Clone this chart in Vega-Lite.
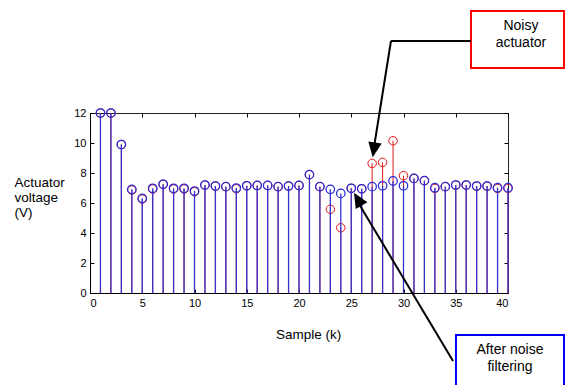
{
  "$schema": "https://vega.github.io/schema/vega-lite/v6.json",
  "width": 418,
  "height": 180,
  "autosize": {"type": "none"},
  "padding": {"left": 90, "top": 113, "right": 57, "bottom": 92},
  "background": "white",
  "config": {
    "view": {"stroke": "#222", "strokeWidth": 1},
    "font": "Liberation Sans",
    "axis": {
      "grid": false,
      "domainColor": "#000",
      "tickColor": "#000",
      "labelColor": "#000",
      "titleColor": "#000",
      "labelFont": "Liberation Sans",
      "titleFont": "Liberation Sans",
      "labelFontSize": 11,
      "titleFontSize": 13.5,
      "titleFontWeight": "normal",
      "tickSize": -4,
      "labelPadding": 8
    }
  },
  "datasets": {
    "samples": [
      {"k":1,"series":"noisy","v":12},{"k":2,"series":"noisy","v":12},{"k":3,"series":"noisy","v":9.9},{"k":4,"series":"noisy","v":6.86},{"k":5,"series":"noisy","v":6.26},{"k":6,"series":"noisy","v":6.93},{"k":7,"series":"noisy","v":7.25},{"k":8,"series":"noisy","v":6.93},{"k":9,"series":"noisy","v":6.93},{"k":10,"series":"noisy","v":6.75},
      {"k":11,"series":"noisy","v":7.2},{"k":12,"series":"noisy","v":7.13},{"k":13,"series":"noisy","v":7.09},{"k":14,"series":"noisy","v":6.95},{"k":15,"series":"noisy","v":7.15},{"k":16,"series":"noisy","v":7.17},{"k":17,"series":"noisy","v":7.17},{"k":18,"series":"noisy","v":7.09},{"k":19,"series":"noisy","v":7.13},{"k":20,"series":"noisy","v":7.17},
      {"k":21,"series":"noisy","v":7.89},{"k":22,"series":"noisy","v":7.09},{"k":23,"series":"noisy","v":5.58},{"k":24,"series":"noisy","v":4.35},{"k":25,"series":"noisy","v":6.98},{"k":26,"series":"noisy","v":6.95},{"k":27,"series":"noisy","v":8.64},{"k":28,"series":"noisy","v":8.71},{"k":29,"series":"noisy","v":10.15},{"k":30,"series":"noisy","v":7.82},
      {"k":31,"series":"noisy","v":7.64},{"k":32,"series":"noisy","v":7.49},{"k":33,"series":"noisy","v":6.97},{"k":34,"series":"noisy","v":7.09},{"k":35,"series":"noisy","v":7.2},{"k":36,"series":"noisy","v":7.2},{"k":37,"series":"noisy","v":7.13},{"k":38,"series":"noisy","v":7.13},{"k":39,"series":"noisy","v":6.97},{"k":40,"series":"noisy","v":6.97},
      {"k":1,"series":"filtered","v":12},{"k":2,"series":"filtered","v":12},{"k":3,"series":"filtered","v":9.9},{"k":4,"series":"filtered","v":6.91},{"k":5,"series":"filtered","v":6.31},{"k":6,"series":"filtered","v":6.98},{"k":7,"series":"filtered","v":7.25},{"k":8,"series":"filtered","v":6.98},{"k":9,"series":"filtered","v":6.98},{"k":10,"series":"filtered","v":6.8},
      {"k":11,"series":"filtered","v":7.2},{"k":12,"series":"filtered","v":7.13},{"k":13,"series":"filtered","v":7.09},{"k":14,"series":"filtered","v":7.0},{"k":15,"series":"filtered","v":7.15},{"k":16,"series":"filtered","v":7.17},{"k":17,"series":"filtered","v":7.17},{"k":18,"series":"filtered","v":7.09},{"k":19,"series":"filtered","v":7.13},{"k":20,"series":"filtered","v":7.17},
      {"k":21,"series":"filtered","v":7.89},{"k":22,"series":"filtered","v":7.09},{"k":23,"series":"filtered","v":6.91},{"k":24,"series":"filtered","v":6.64},{"k":25,"series":"filtered","v":6.98},{"k":26,"series":"filtered","v":6.95},{"k":27,"series":"filtered","v":7.09},{"k":28,"series":"filtered","v":7.15},{"k":29,"series":"filtered","v":7.47},{"k":30,"series":"filtered","v":7.15},
      {"k":31,"series":"filtered","v":7.64},{"k":32,"series":"filtered","v":7.49},{"k":33,"series":"filtered","v":7.02},{"k":34,"series":"filtered","v":7.09},{"k":35,"series":"filtered","v":7.2},{"k":36,"series":"filtered","v":7.2},{"k":37,"series":"filtered","v":7.13},{"k":38,"series":"filtered","v":7.13},{"k":39,"series":"filtered","v":7.02},{"k":40,"series":"filtered","v":7.02}
    ],
    "boxes": [
      {"id":"noisy","x":36.46,"x2":45.36,"y":18.8,"y2":15.0},
      {"id":"filtered","x":35.02,"x2":45.36,"y":-2.8,"y2":-6.6}
    ],
    "segments": [
      {"x":36.46,"y":16.8,"x2":28.8,"y2":16.8},
      {"x":28.8,"y":16.8,"x2":27.15,"y2":9.6},
      {"x":34.74,"y":-4.53,"x2":25.6,"y2":6.1}
    ],
    "tips": [
      {"id":"noisy","x":27.05,"y":9.05},
      {"id":"filtered","x":25.26,"y":6.69}
    ],
    "notes": [
      {"text":"Noisy","x":41.24,"y":17.82},
      {"text":"actuator","x":41.24,"y":16.65},
      {"text":"After noise","x":40.19,"y":-3.8},
      {"text":"filtering","x":40.19,"y":-4.93}
    ]
  },
  "layer": [
    {
      "data": {"name": "samples"},
      "transform": [{"filter": "datum.series === 'noisy'"}],
      "mark": {"type": "rule", "color": "#e01818", "strokeWidth": 1},
      "encoding": {
        "x": {"field": "k", "type": "quantitative", "scale": {"domain": [0, 40], "nice": false},
          "axis": {"orient": "bottom", "values": [0,5,10,15,20,25,30,35,40], "title": "Sample (k)", "titleX": 218, "titleY": 41, "titleBaseline": "middle"}},
        "y": {"field": "v", "type": "quantitative", "scale": {"domain": [0, 12], "nice": false},
          "axis": {"orient": "left", "values": [0,2,4,6,8,10,12], "title": ["Actuator", "voltage", "(V)"], "titleAngle": 0, "titleAlign": "left", "titleBaseline": "top", "titleX": -76, "titleY": 62, "titleLineHeight": 15}},
        "y2": {"datum": 0}
      }
    },
    {
      "data": {"name": "samples"},
      "transform": [{"filter": "datum.series === 'noisy'"}],
      "mark": {"type": "point", "shape": "circle", "filled": false, "color": "#e01818", "size": 72, "strokeWidth": 1, "opacity": 1},
      "encoding": {
        "x": {"field": "k", "type": "quantitative", "axis": {"orient": "top", "values": [0,5,10,15,20,25,30,35,40], "labels": false, "title": null, "domain": false}},
        "y": {"field": "v", "type": "quantitative", "axis": {"orient": "right", "values": [0,2,4,6,8,10,12], "labels": false, "title": null, "domain": false}}
      }
    },
    {
      "data": {"name": "samples"},
      "transform": [{"filter": "datum.series === 'filtered'"}],
      "mark": {"type": "rule", "color": "#3434cc", "strokeWidth": 1.3},
      "encoding": {
        "x": {"field": "k", "type": "quantitative", "axis": null},
        "y": {"field": "v", "type": "quantitative", "axis": null},
        "y2": {"datum": 0}
      }
    },
    {
      "data": {"name": "samples"},
      "transform": [{"filter": "datum.series === 'filtered'"}],
      "mark": {"type": "point", "shape": "circle", "filled": false, "color": "#2828d8", "size": 72, "strokeWidth": 1.25, "opacity": 1},
      "encoding": {
        "x": {"field": "k", "type": "quantitative", "axis": null},
        "y": {"field": "v", "type": "quantitative", "axis": null}
      }
    },
    {
      "data": {"name": "boxes"},
      "transform": [{"filter": "datum.id === 'noisy'"}],
      "mark": {"type": "rect", "fill": "white", "stroke": "#ff0000", "strokeWidth": 2, "clip": false},
      "encoding": {
        "x": {"field": "x", "type": "quantitative", "axis": null},
        "x2": {"field": "x2"},
        "y": {"field": "y", "type": "quantitative", "axis": null},
        "y2": {"field": "y2"}
      }
    },
    {
      "data": {"name": "boxes"},
      "transform": [{"filter": "datum.id === 'filtered'"}],
      "mark": {"type": "rect", "fill": "white", "stroke": "#0000ff", "strokeWidth": 2, "clip": false},
      "encoding": {
        "x": {"field": "x", "type": "quantitative", "axis": null},
        "x2": {"field": "x2"},
        "y": {"field": "y", "type": "quantitative", "axis": null},
        "y2": {"field": "y2"}
      }
    },
    {
      "data": {"name": "segments"},
      "mark": {"type": "rule", "color": "#000", "strokeWidth": 2, "clip": false},
      "encoding": {
        "x": {"field": "x", "type": "quantitative", "axis": null},
        "y": {"field": "y", "type": "quantitative", "axis": null},
        "x2": {"field": "x2"},
        "y2": {"field": "y2"}
      }
    },
    {
      "data": {"name": "tips"},
      "transform": [{"filter": "datum.id === 'noisy'"}],
      "mark": {"type": "point", "shape": "M0,0L-0.45,-1L0.45,-1Z", "filled": true, "color": "#000", "size": 900, "angle": 9, "opacity": 1, "clip": false},
      "encoding": {
        "x": {"field": "x", "type": "quantitative", "axis": null},
        "y": {"field": "y", "type": "quantitative", "axis": null}
      }
    },
    {
      "data": {"name": "tips"},
      "transform": [{"filter": "datum.id === 'filtered'"}],
      "mark": {"type": "point", "shape": "M0,0L-0.45,-1L0.45,-1Z", "filled": true, "color": "#000", "size": 900, "angle": 149.5, "opacity": 1, "clip": false},
      "encoding": {
        "x": {"field": "x", "type": "quantitative", "axis": null},
        "y": {"field": "y", "type": "quantitative", "axis": null}
      }
    },
    {
      "data": {"name": "notes"},
      "mark": {"type": "text", "font": "Liberation Sans", "fontSize": 14, "align": "center", "baseline": "middle", "color": "#000", "clip": false},
      "encoding": {
        "x": {"field": "x", "type": "quantitative", "axis": null},
        "y": {"field": "y", "type": "quantitative", "axis": null},
        "text": {"field": "text"}
      }
    }
  ],
  "resolve": {"axis": {"x": "independent", "y": "independent"}}
}
